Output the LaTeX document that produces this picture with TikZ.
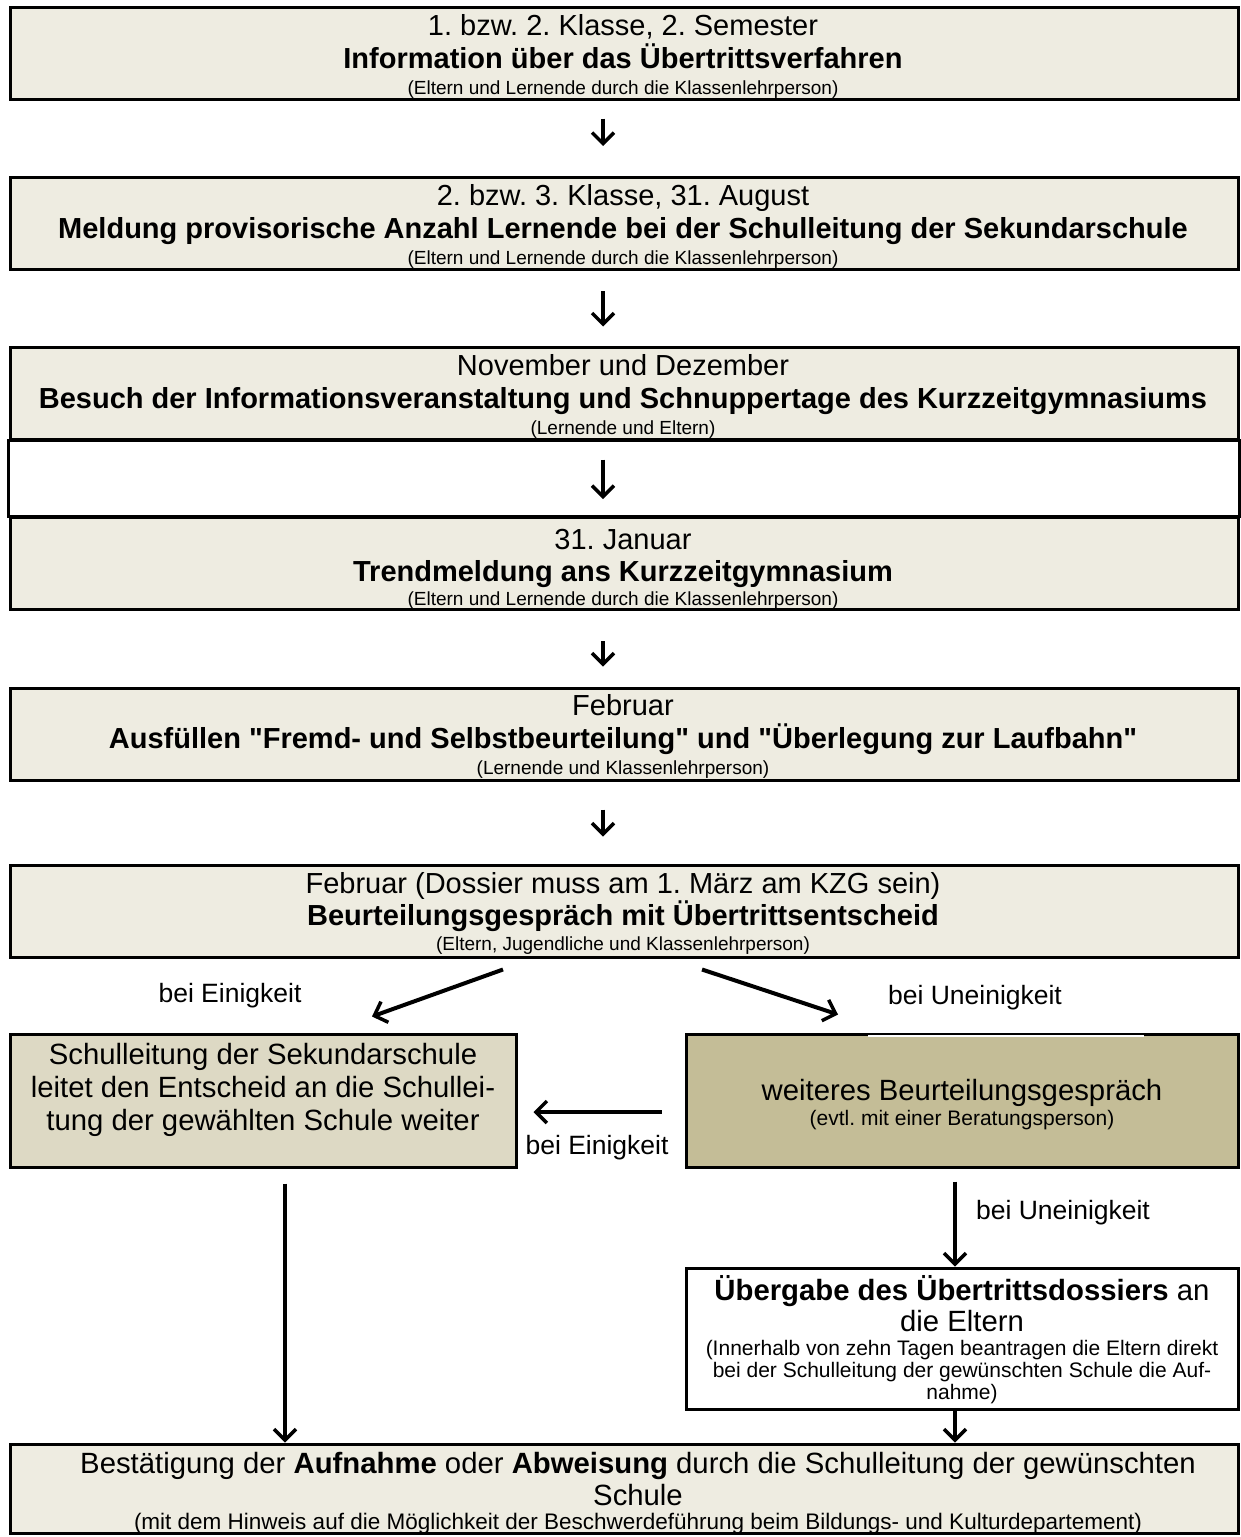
\documentclass[tikz,border=0pt]{standalone}
\usepackage{fontspec}
\setmainfont{Liberation Sans}
\newfontfamily\quotefont{Liberation Sans}
\usetikzlibrary{arrows.meta}
\frenchspacing

\definecolor{hell}{HTML}{EEECE1}
\definecolor{tan}{HTML}{DDD9C4}
\definecolor{dunkel}{HTML}{C4BD97}

\newcommand{\gf}{{\quotefont\symbol{34}}}

\tikzset{
  stufe/.style={draw, line width=3pt, fill=hell, inner sep=0pt, minimum width=1228pt, minimum height=92pt},
  zeile/.style={anchor=base, inner sep=0pt, font=\fontsize{29}{33}\selectfont},
  titel/.style={anchor=base, inner sep=0pt, font=\fontsize{29}{33}\selectfont\bfseries},
  hinweis/.style={anchor=base, inner sep=0pt, font=\fontsize{19}{22}\selectfont},
  etikett/.style={anchor=base, inner sep=0pt, font=\fontsize{26.5}{30}\selectfont},
  gross/.style={anchor=base, inner sep=0pt, font=\fontsize{29.3}{33}\selectfont},
  mittel/.style={anchor=base, inner sep=0pt, font=\fontsize{21}{24}\selectfont},
  pfeil/.style={line width=4pt, -{Straight Barb[length=11pt,width=22pt,line width=3.5pt]}}
}

\begin{document}
\begin{tikzpicture}[x=1pt, y=-1pt]
\useasboundingbox (0,0) rectangle (1240,1537);

\node[stufe] (info) at (624,53) {};
\node[zeile] (infoA) at (623,35) {1. bzw. 2. Klasse, 2. Semester};
\node[titel] (infoB) at (623,68) {Information über das Übertrittsverfahren};
\node[hinweis] (infoC) at (623,94) {(Eltern und Lernende durch die Klassenlehrperson)};

\node[stufe] (meldung) at (624,223.5) {};
\node[zeile] (meldungA) at (623,205) {2. bzw. 3. Klasse, 31. August};
\node[titel] (meldungB) at (623,238) {Meldung provisorische Anzahl Lernende bei der Schulleitung der Sekundarschule};
\node[hinweis] (meldungC) at (623,264) {(Eltern und Lernende durch die Klassenlehrperson)};

\node[stufe] (besuch) at (624,393) {};
\node[zeile] (besuchA) at (623,375) {November und Dezember};
\node[titel] (besuchB) at (623,408) {Besuch der Informationsveranstaltung und Schnuppertage des Kurzzeitgymnasiums};
\node[hinweis] (besuchC) at (623,434) {(Lernende und Eltern)};

\node[stufe] (trend) at (624,563.5) {};
\node[zeile] (trendA) at (623,549) {31. Januar};
\node[titel] (trendB) at (623,581) {Trendmeldung ans Kurzzeitgymnasium};
\node[hinweis] (trendC) at (623,605) {(Eltern und Lernende durch die Klassenlehrperson)};
% weisser Zwischenraum im selben Rahmen
\draw[line width=3pt] (besuch.south west) rectangle (trend.north east);

\node[stufe] (ausfuellen) at (624,734) {};
\node[zeile] (ausfuellenA) at (623,715) {Februar};
\node[titel] (ausfuellenB) at (623,748) {Ausfüllen \gf Fremd- und Selbstbeurteilung\gf{} und \gf Überlegung zur Laufbahn\gf};
\node[hinweis] (ausfuellenC) at (623,774) {(Lernende und Klassenlehrperson)};

\node[stufe] (entscheid) at (624,911) {};
\node[zeile] (entscheidA) at (623,893) {Februar (Dossier muss am 1. März am KZG sein)};
\node[titel] (entscheidB) at (623,925) {Beurteilungsgespräch mit Übertrittsentscheid};
\node[hinweis] (entscheidC) at (623,950) {(Eltern, Jugendliche und Klassenlehrperson)};

\node[stufe, fill=tan, minimum width=506pt, minimum height=133pt] (weiter) at (263,1100.5) {};
\node[gross] (weiterA) at (263,1064) {Schulleitung der Sekundarschule};
\node[gross] (weiterB) at (263,1097) {leitet den Entscheid an die Schullei-};
\node[gross] (weiterC) at (263,1130) {tung der gewählten Schule weiter};

\node[stufe, fill=dunkel, minimum width=552pt, minimum height=133pt] (gespraech) at (962,1100.5) {};
\fill[white] (868,1034.5) rectangle (1144,1036.5);
\node[gross] (gespraechA) at (962,1100) {weiteres Beurteilungsgespräch};
\node[mittel] (gespraechB) at (962,1125) {(evtl. mit einer Beratungsperson)};

\node[stufe, fill=white, minimum width=552pt, minimum height=141pt] (uebergabe) at (962,1338.5) {};
\node[gross] (uebergabeA) at (962,1300) {\textbf{Übergabe des Übertrittsdossiers} an};
\node[gross] (uebergabeB) at (962,1331) {die Eltern};
\node[mittel] (uebergabeC) at (962,1355) {(Innerhalb von zehn Tagen beantragen die Eltern direkt};
\node[mittel] (uebergabeD) at (962,1377) {bei der Schulleitung der gewünschten Schule die Auf-};
\node[mittel] (uebergabeE) at (962,1399) {nahme)};

\node[stufe, minimum height=89pt] (bestaetigung) at (624,1488.5) {};
\node[gross] (bestaetigungA) at (638,1473) {Bestätigung der \textbf{Aufnahme} oder \textbf{Abweisung} durch die Schulleitung der gewünschten};
\node[gross] (bestaetigungB) at (638,1505) {Schule};
\node[mittel, font=\fontsize{22.5}{26}\selectfont] (bestaetigungC) at (638,1529) {(mit dem Hinweis auf die Möglichkeit der Beschwerdeführung beim Bildungs- und Kulturdepartement)};

% Pfeile
\draw[pfeil, shorten <=18pt, shorten >=30pt] ([xshift=-21pt]info.south) -- ([xshift=-21pt]meldung.north);
\draw[pfeil, shorten <=20pt, shorten >=19pt] ([xshift=-21pt]meldung.south) -- ([xshift=-21pt]besuch.north);
\draw[pfeil, shorten <=19pt, shorten >=17pt] ([xshift=-21pt]besuch.south) -- ([xshift=-21pt]trend.north);
\draw[pfeil, shorten <=30pt, shorten >=20pt] ([xshift=-21pt]trend.south) -- ([xshift=-21pt]ausfuellen.north);
\draw[pfeil, shorten <=28pt, shorten >=27pt] ([xshift=-21pt]ausfuellen.south) -- ([xshift=-21pt]entscheid.north);

\draw[pfeil] ([xshift=-121pt,yshift=-11pt]entscheid.south) -- ([xshift=109pt,yshift=16pt]weiter.north);
\draw[pfeil] ([xshift=78pt,yshift=-11pt]entscheid.south) -- ([xshift=-124pt,yshift=18pt]gespraech.north);
\node[etikett] (einig) at (230,1002) {bei Einigkeit};
\node[etikett] (uneinig) at (975,1004) {bei Uneinigkeit};

\draw[pfeil, shorten <=23pt, shorten >=16pt] ([yshift=-11.5pt]gespraech.west) -- ([yshift=-11.5pt]weiter.east);
\node[etikett] (einigB) at (597,1154) {bei Einigkeit};

\draw[pfeil, shorten <=15pt] ([xshift=22pt]weiter.south) -- ([xshift=22pt]weiter.south |- bestaetigung.north);
\draw[pfeil, shorten <=13pt] ([xshift=-7pt]gespraech.south) -- ([xshift=-7pt]uebergabe.north);
\node[etikett] (uneinigB) at (1063,1219) {bei Uneinigkeit};
\draw[pfeil] ([xshift=-7pt]uebergabe.south) -- ([xshift=-7pt]uebergabe.south |- bestaetigung.north);
\end{tikzpicture}
\end{document}
